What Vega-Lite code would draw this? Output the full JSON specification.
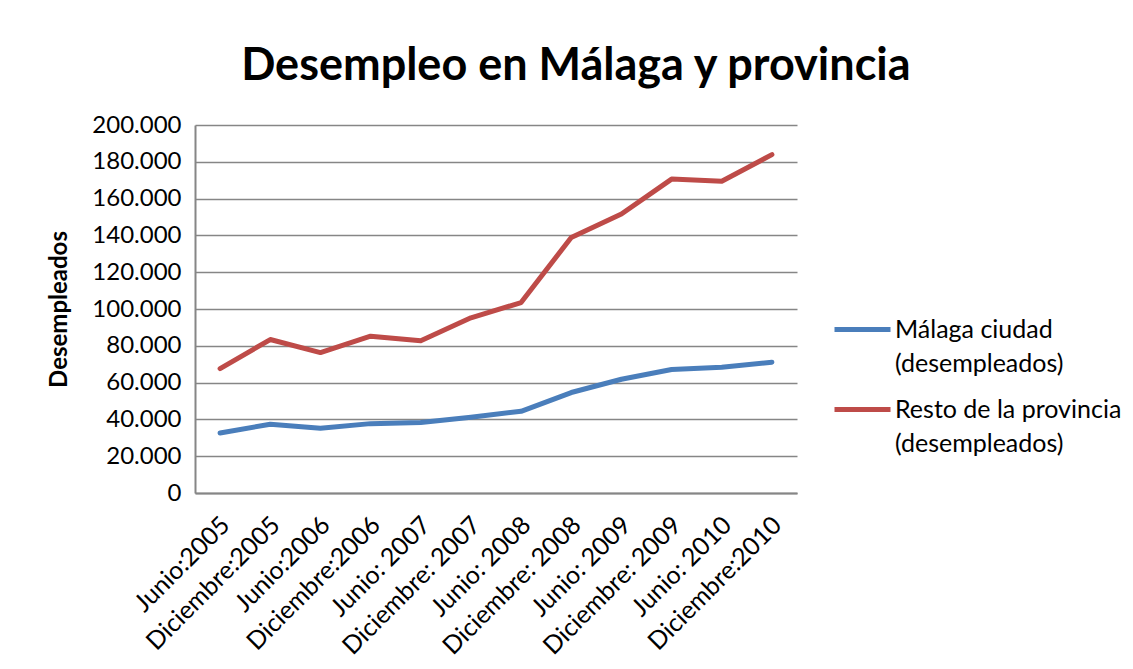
{
  "$schema": "https://vega.github.io/schema/vega-lite/v6.json",
  "width": 602,
  "height": 368,
  "autosize": {"type": "none"},
  "padding": {"left": 195, "top": 125, "right": 336, "bottom": 176},
  "background": "white",
  "config": {
    "font": "Lato",
    "view": {"stroke": null},
    "style": {"guide-label": {"lineHeight": 34}}
  },
  "title": {
    "text": "Desempleo en Málaga y provincia",
    "font": "Lato",
    "fontSize": 45,
    "fontWeight": "bold",
    "color": "black",
    "anchor": "middle",
    "frame": "bounds",
    "offset": 24,
    "dx": -9
  },
  "data": {
    "values": [
      {"periodo": "Junio:2005", "serie": "Málaga ciudad (desempleados)", "valor": 32600},
      {"periodo": "Diciembre:2005", "serie": "Málaga ciudad (desempleados)", "valor": 37400},
      {"periodo": "Junio:2006", "serie": "Málaga ciudad (desempleados)", "valor": 35200},
      {"periodo": "Diciembre:2006", "serie": "Málaga ciudad (desempleados)", "valor": 37700},
      {"periodo": "Junio: 2007", "serie": "Málaga ciudad (desempleados)", "valor": 38300},
      {"periodo": "Diciembre: 2007", "serie": "Málaga ciudad (desempleados)", "valor": 41200},
      {"periodo": "Junio: 2008", "serie": "Málaga ciudad (desempleados)", "valor": 44400},
      {"periodo": "Diciembre: 2008", "serie": "Málaga ciudad (desempleados)", "valor": 54600},
      {"periodo": "Junio: 2009", "serie": "Málaga ciudad (desempleados)", "valor": 61800},
      {"periodo": "Diciembre: 2009", "serie": "Málaga ciudad (desempleados)", "valor": 67100},
      {"periodo": "Junio: 2010", "serie": "Málaga ciudad (desempleados)", "valor": 68400},
      {"periodo": "Diciembre:2010", "serie": "Málaga ciudad (desempleados)", "valor": 71100},
      {"periodo": "Junio:2005", "serie": "Resto de la provincia (desempleados)", "valor": 67600},
      {"periodo": "Diciembre:2005", "serie": "Resto de la provincia (desempleados)", "valor": 83400},
      {"periodo": "Junio:2006", "serie": "Resto de la provincia (desempleados)", "valor": 76300},
      {"periodo": "Diciembre:2006", "serie": "Resto de la provincia (desempleados)", "valor": 85200},
      {"periodo": "Junio: 2007", "serie": "Resto de la provincia (desempleados)", "valor": 82700},
      {"periodo": "Diciembre: 2007", "serie": "Resto de la provincia (desempleados)", "valor": 95200},
      {"periodo": "Junio: 2008", "serie": "Resto de la provincia (desempleados)", "valor": 103500},
      {"periodo": "Diciembre: 2008", "serie": "Resto de la provincia (desempleados)", "valor": 138900},
      {"periodo": "Junio: 2009", "serie": "Resto de la provincia (desempleados)", "valor": 151600},
      {"periodo": "Diciembre: 2009", "serie": "Resto de la provincia (desempleados)", "valor": 170600},
      {"periodo": "Junio: 2010", "serie": "Resto de la provincia (desempleados)", "valor": 169400},
      {"periodo": "Diciembre:2010", "serie": "Resto de la provincia (desempleados)", "valor": 183900}
    ]
  },
  "mark": {"type": "line", "strokeWidth": 5, "strokeCap": "round", "strokeJoin": "round"},
  "encoding": {
    "x": {
      "field": "periodo",
      "type": "nominal",
      "sort": null,
      "scale": {"type": "band", "paddingInner": 0, "paddingOuter": 0},
      "axis": {
        "title": null,
        "labelAngle": -45,
        "labelFont": "Lato",
        "labelFontSize": 25,
        "labelColor": "black",
        "labelPadding": 19,
        "labelOffset": -3,
        "labelLimit": 300,
        "ticks": false,
        "domainColor": "#868686",
        "domainWidth": 2,
        "grid": false
      }
    },
    "y": {
      "field": "valor",
      "type": "quantitative",
      "scale": {"domain": [0, 200000], "nice": false},
      "axis": {
        "title": "Desempleados",
        "titleFont": "Lato",
        "titleFontSize": 24,
        "titleFontWeight": "bold",
        "titleColor": "black",
        "titlePadding": 20,
        "values": [0, 20000, 40000, 60000, 80000, 100000, 120000, 140000, 160000, 180000, 200000],
        "labelExpr": "replace(format(datum.value, ','), ',', '.')",
        "labelFont": "Lato",
        "labelFontSize": 24,
        "labelColor": "black",
        "labelPadding": 14,
        "ticks": false,
        "domainColor": "#868686",
        "domainWidth": 2,
        "gridColor": "#868686",
        "gridWidth": 1.5
      }
    },
    "color": {
      "field": "serie",
      "type": "nominal",
      "scale": {"range": ["#4A7EBB", "#BE4B48"]},
      "legend": {
        "title": null,
        "orient": "none",
        "legendX": 637,
        "legendY": 174,
        "symbolType": "stroke",
        "symbolSize": 3136,
        "symbolStrokeWidth": 5,
        "labelFont": "Lato",
        "labelFontSize": 25,
        "labelColor": "black",
        "labelLimit": 400,
        "labelBaseline": "middle",
        "labelOffset": 2,
        "rowPadding": 2,
        "labelExpr": "[slice(datum.label, 0, indexof(datum.label, ' (')), slice(datum.label, indexof(datum.label, ' (') + 1)]"
      }
    }
  }
}
